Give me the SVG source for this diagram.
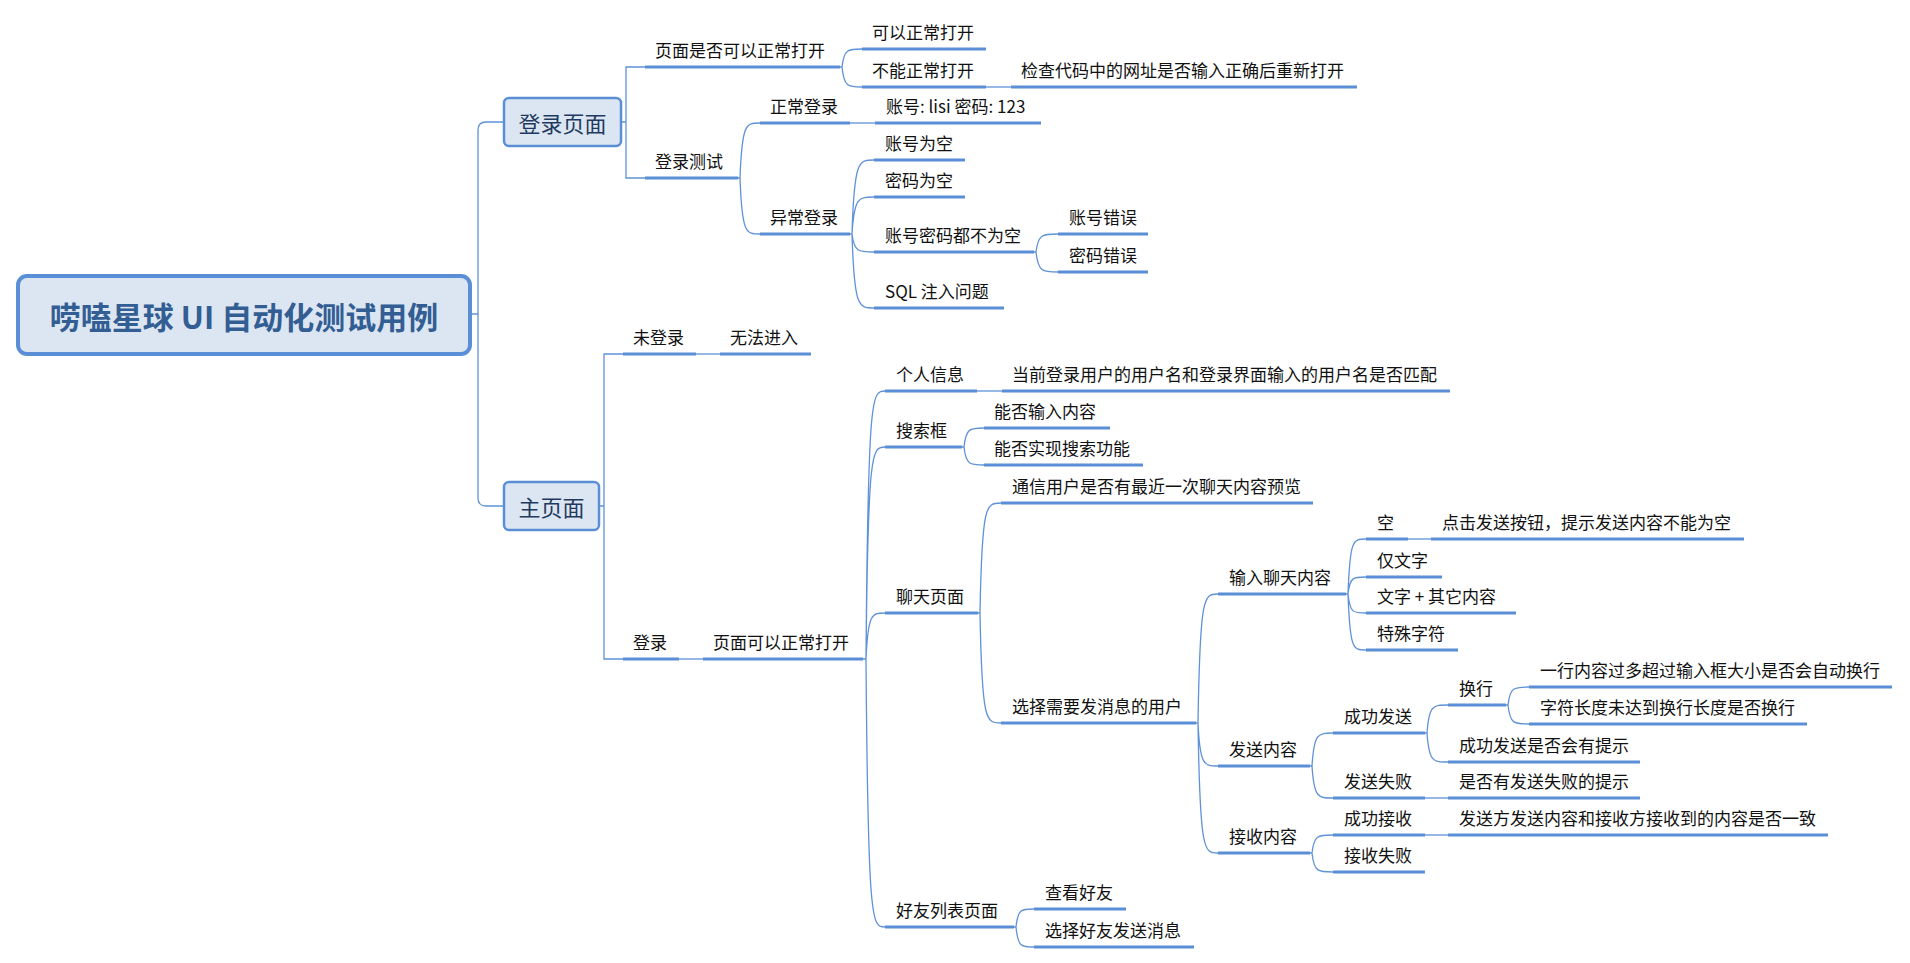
<svg xmlns="http://www.w3.org/2000/svg" width="1910" height="963" viewBox="0 0 1910 963">
<style>
.u{stroke:#5a8ed6;stroke-width:3;fill:none}
.c{stroke:#5f92d8;stroke-width:1.3;fill:none}
.t{font-family:"Noto Sans CJK SC","Microsoft YaHei",sans-serif;font-size:17px;fill:#111}
.box{fill:#dce6f2;stroke:#5a8ed6;stroke-width:2.5}
.bt{font-family:"Noto Sans CJK SC","Microsoft YaHei",sans-serif;font-size:22px;fill:#1f3a60;text-anchor:middle;dominant-baseline:central}
</style>
<rect width="1910" height="963" fill="#ffffff"/>
<g id="connectors">
<path class="c" d="M470 314 H478 M478 314 V130 Q478 122 486 122 H504 M478 314 V498 Q478 506 486 506 H504"/>
<path class="c" d="M621 122 H626 M645 67 H626 V178 H645"/>
<path class="c" d="M599 506 H604 M623 354 H604 V659 H623"/>
<path class="c" d="M840 67 H842 M842 67 C844 49 848 49 862 49 M842 67 C844 87 848 87 862 87"/>
<path class="c" d="M986 87 H1011"/>
<path class="c" d="M738 178 H740 M740 178 C742 123 746 123 760 123 M740 178 C742 234 746 234 760 234"/>
<path class="c" d="M850 123 H875"/>
<path class="c" d="M850 234 H852 M852 234 C854.2 160 858.6 160 874 160 M852 234 C854.2 197 858.6 197 874 197 M852 234 C854.2 252 858.6 252 874 252 M852 234 C854.2 308 858.6 308 874 308"/>
<path class="c" d="M1034 252 H1036 M1036 252 C1038.2 234 1042.6 234 1058 234 M1036 252 C1038.2 272 1042.6 272 1058 272"/>
<path class="c" d="M696 354 H720"/>
<path class="c" d="M679 659 H703"/>
<path class="c" d="M863 659 H866 M866 659 C868 391 872 391 885 391 M866 659 C868 447 872 447 885 447 M866 659 C868 613 872 613 885 613 M866 659 C868 927 872 927 885 927"/>
<path class="c" d="M977 391 H1002"/>
<path class="c" d="M962 447 H964 M964 447 C966 428 970 428 984 428 M964 447 C966 465 970 465 984 465"/>
<path class="c" d="M978 613 H980 M980 613 C982 503 986 503 1001 503 M980 613 C982 723 986 723 1001 723"/>
<path class="c" d="M1196 723 H1198 M1198 723 C1200 594 1204 594 1218 594 M1198 723 C1200 766 1204 766 1218 766 M1198 723 C1200 853 1204 853 1218 853"/>
<path class="c" d="M1346 594 H1348 M1348 594 C1350 539 1353 539 1366 539 M1348 594 C1350 577 1353 577 1366 577 M1348 594 C1350 613 1353 613 1366 613 M1348 594 C1350 650 1353 650 1366 650"/>
<path class="c" d="M1408 539 H1431"/>
<path class="c" d="M1310 766 H1312 M1312 766 C1314 733 1318 733 1333 733 M1312 766 C1314 798 1318 798 1333 798"/>
<path class="c" d="M1425 733 H1427 M1427 733 C1429 705 1433 705 1448 705 M1427 733 C1429 762 1433 762 1448 762"/>
<path class="c" d="M1506 705 H1508 M1508 705 C1510 687 1514 687 1529 687 M1508 705 C1510 724 1514 724 1529 724"/>
<path class="c" d="M1425 798 H1448"/>
<path class="c" d="M1310 853 H1312 M1312 853 C1314 835 1318 835 1333 835 M1312 853 C1314 872 1318 872 1333 872"/>
<path class="c" d="M1425 835 H1448"/>
<path class="c" d="M1014 927 H1016 M1016 927 C1018 909 1021 909 1034 909 M1016 927 C1018 947 1021 947 1034 947"/>
</g>
<g id="root">
<rect x="18" y="276" width="452" height="78" rx="9" fill="#dce6f2" stroke="#5a8ed6" stroke-width="4"/>
<text x="244" y="315" font-family="Noto Sans CJK SC, Microsoft YaHei, sans-serif" font-size="31" font-weight="bold" fill="#335e94" text-anchor="middle" dominant-baseline="central">唠嗑星球 UI 自动化测试用例</text>
</g>
<g id="login-page">
<rect class="box" x="504" y="98" width="117" height="48" rx="5"/>
<text class="bt" x="562.5" y="122">登录页面</text>
</g>
<g id="main-page">
<rect class="box" x="504" y="482" width="95" height="48" rx="5"/>
<text class="bt" x="551.5" y="506">主页面</text>
</g>
<g id="n-open"><line class="u" x1="645" y1="67" x2="840" y2="67"/><text class="t" x="655" y="57">页面是否可以正常打开</text></g>
<g id="n-open-ok"><line class="u" x1="862" y1="49" x2="986" y2="49"/><text class="t" x="872" y="39">可以正常打开</text></g>
<g id="n-open-fail"><line class="u" x1="862" y1="87" x2="986" y2="87"/><text class="t" x="872" y="77">不能正常打开</text></g>
<g id="n-open-check"><line class="u" x1="1011" y1="87" x2="1357" y2="87"/><text class="t" x="1021" y="77">检查代码中的网址是否输入正确后重新打开</text></g>
<g id="n-logintest"><line class="u" x1="645" y1="178" x2="738" y2="178"/><text class="t" x="655" y="168">登录测试</text></g>
<g id="n-normal"><line class="u" x1="760" y1="123" x2="850" y2="123"/><text class="t" x="770" y="113">正常登录</text></g>
<g id="n-normal-acc"><line class="u" x1="875" y1="123" x2="1041" y2="123"/><text class="t" x="886" y="113">账号: lisi 密码: 123</text></g>
<g id="n-abnormal"><line class="u" x1="760" y1="234" x2="850" y2="234"/><text class="t" x="770" y="224">异常登录</text></g>
<g id="n-acc-empty"><line class="u" x1="874" y1="160" x2="965" y2="160"/><text class="t" x="885" y="150">账号为空</text></g>
<g id="n-pwd-empty"><line class="u" x1="874" y1="197" x2="965" y2="197"/><text class="t" x="885" y="187">密码为空</text></g>
<g id="n-both"><line class="u" x1="874" y1="252" x2="1034" y2="252"/><text class="t" x="885" y="242">账号密码都不为空</text></g>
<g id="n-acc-err"><line class="u" x1="1058" y1="234" x2="1148" y2="234"/><text class="t" x="1069" y="224">账号错误</text></g>
<g id="n-pwd-err"><line class="u" x1="1058" y1="272" x2="1148" y2="272"/><text class="t" x="1069" y="262">密码错误</text></g>
<g id="n-sql"><line class="u" x1="874" y1="308" x2="1004" y2="308"/><text class="t" x="885" y="298">SQL 注入问题</text></g>
<g id="n-notlogged"><line class="u" x1="623" y1="354" x2="696" y2="354"/><text class="t" x="633" y="344">未登录</text></g>
<g id="n-noenter"><line class="u" x1="720" y1="354" x2="811" y2="354"/><text class="t" x="730" y="344">无法进入</text></g>
<g id="n-logged"><line class="u" x1="623" y1="659" x2="679" y2="659"/><text class="t" x="633" y="649">登录</text></g>
<g id="n-pageok"><line class="u" x1="703" y1="659" x2="863" y2="659"/><text class="t" x="713" y="649">页面可以正常打开</text></g>
<g id="n-profile"><line class="u" x1="885" y1="391" x2="977" y2="391"/><text class="t" x="896" y="381">个人信息</text></g>
<g id="n-profile-match"><line class="u" x1="1002" y1="391" x2="1450" y2="391"/><text class="t" x="1012" y="381">当前登录用户的用户名和登录界面输入的用户名是否匹配</text></g>
<g id="n-search"><line class="u" x1="885" y1="447" x2="962" y2="447"/><text class="t" x="896" y="437">搜索框</text></g>
<g id="n-search-input"><line class="u" x1="984" y1="428" x2="1110" y2="428"/><text class="t" x="994" y="418">能否输入内容</text></g>
<g id="n-search-func"><line class="u" x1="984" y1="465" x2="1143" y2="465"/><text class="t" x="994" y="455">能否实现搜索功能</text></g>
<g id="n-chat"><line class="u" x1="885" y1="613" x2="978" y2="613"/><text class="t" x="896" y="603">聊天页面</text></g>
<g id="n-preview"><line class="u" x1="1001" y1="503" x2="1313" y2="503"/><text class="t" x="1012" y="493">通信用户是否有最近一次聊天内容预览</text></g>
<g id="n-select"><line class="u" x1="1001" y1="723" x2="1196" y2="723"/><text class="t" x="1012" y="713">选择需要发消息的用户</text></g>
<g id="n-input"><line class="u" x1="1218" y1="594" x2="1346" y2="594"/><text class="t" x="1229" y="584">输入聊天内容</text></g>
<g id="n-empty"><line class="u" x1="1366" y1="539" x2="1408" y2="539"/><text class="t" x="1377" y="529">空</text></g>
<g id="n-empty-tip"><line class="u" x1="1431" y1="539" x2="1744" y2="539"/><text class="t" x="1442" y="529">点击发送按钮，提示发送内容不能为空</text></g>
<g id="n-textonly"><line class="u" x1="1366" y1="577" x2="1442" y2="577"/><text class="t" x="1377" y="567">仅文字</text></g>
<g id="n-textother"><line class="u" x1="1366" y1="613" x2="1516" y2="613"/><text class="t" x="1377" y="603" xml:space="preserve">文字 + 其它内容</text></g>
<g id="n-special"><line class="u" x1="1366" y1="650" x2="1458" y2="650"/><text class="t" x="1377" y="640">特殊字符</text></g>
<g id="n-send"><line class="u" x1="1218" y1="766" x2="1310" y2="766"/><text class="t" x="1229" y="756">发送内容</text></g>
<g id="n-send-ok"><line class="u" x1="1333" y1="733" x2="1425" y2="733"/><text class="t" x="1344" y="723">成功发送</text></g>
<g id="n-wrap"><line class="u" x1="1448" y1="705" x2="1506" y2="705"/><text class="t" x="1459" y="695">换行</text></g>
<g id="n-wrap-auto"><line class="u" x1="1529" y1="687" x2="1892" y2="687"/><text class="t" x="1540" y="677">一行内容过多超过输入框大小是否会自动换行</text></g>
<g id="n-wrap-short"><line class="u" x1="1529" y1="724" x2="1807" y2="724"/><text class="t" x="1540" y="714">字符长度未达到换行长度是否换行</text></g>
<g id="n-send-tip"><line class="u" x1="1448" y1="762" x2="1640" y2="762"/><text class="t" x="1459" y="752">成功发送是否会有提示</text></g>
<g id="n-send-fail"><line class="u" x1="1333" y1="798" x2="1425" y2="798"/><text class="t" x="1344" y="788">发送失败</text></g>
<g id="n-send-fail-tip"><line class="u" x1="1448" y1="798" x2="1640" y2="798"/><text class="t" x="1459" y="788">是否有发送失败的提示</text></g>
<g id="n-recv"><line class="u" x1="1218" y1="853" x2="1310" y2="853"/><text class="t" x="1229" y="843">接收内容</text></g>
<g id="n-recv-ok"><line class="u" x1="1333" y1="835" x2="1425" y2="835"/><text class="t" x="1344" y="825">成功接收</text></g>
<g id="n-recv-same"><line class="u" x1="1448" y1="835" x2="1828" y2="835"/><text class="t" x="1459" y="825">发送方发送内容和接收方接收到的内容是否一致</text></g>
<g id="n-recv-fail"><line class="u" x1="1333" y1="872" x2="1425" y2="872"/><text class="t" x="1344" y="862">接收失败</text></g>
<g id="n-friends"><line class="u" x1="885" y1="927" x2="1014" y2="927"/><text class="t" x="896" y="917">好友列表页面</text></g>
<g id="n-friend-view"><line class="u" x1="1034" y1="909" x2="1126" y2="909"/><text class="t" x="1045" y="899">查看好友</text></g>
<g id="n-friend-msg"><line class="u" x1="1034" y1="947" x2="1194" y2="947"/><text class="t" x="1045" y="937">选择好友发送消息</text></g>
</svg>
